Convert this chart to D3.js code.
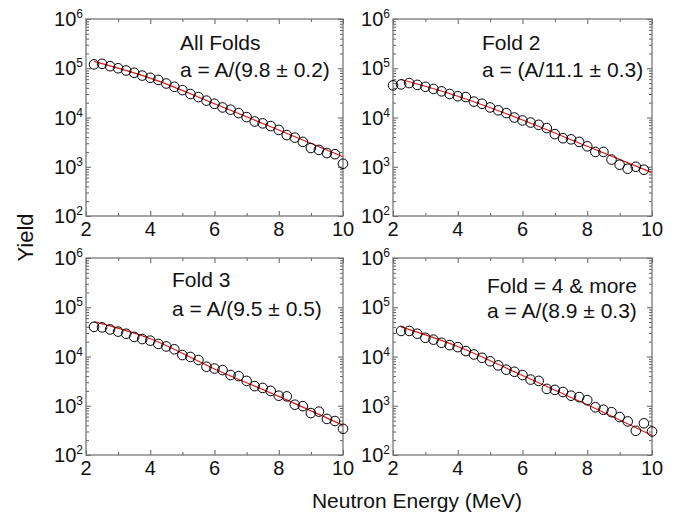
<!DOCTYPE html>
<html>
<head>
<meta charset="utf-8">
<script src="https://cdn.jsdelivr.net/npm/d3@7"></script>
<style>
body { margin: 0; background: #fff; }
svg { font-family: "Liberation Sans", Arial, Helvetica, sans-serif; }
</style>
</head>
<body>
<svg id="chart" width="683" height="512"></svg>
<script>
// neutron energies (MeV)
var energyA = [2.25, 2.5, 2.75, 3, 3.25, 3.5, 3.75, 4, 4.25, 4.5, 4.75, 5, 5.25, 5.5, 5.75, 6,
	6.25, 6.5, 6.75, 7, 7.25, 7.5, 7.75, 8, 8.25, 8.5, 8.75, 9, 9.25, 9.5, 9.75, 10];
var energyB = [2, 2.25, 2.5, 2.75, 3, 3.25, 3.5, 3.75, 4, 4.25, 4.5, 4.75, 5, 5.25, 5.5, 5.75,
	6, 6.25, 6.5, 6.75, 7, 7.25, 7.5, 7.75, 8, 8.25, 8.5, 8.75, 9, 9.25, 9.5, 9.75];

// yields
var allFolds = [1.2e5, 1.23e5, 1.1e5, 1.0e5, 9.0e4, 8.1e4, 7.1e4, 6.4e4, 5.8e4, 4.9e4, 4.2e4, 3.6e4,
	3.0e4, 2.6e4, 2.2e4, 1.9e4, 1.6e4, 1.44e4, 1.23e4, 1.02e4, 8.3e3, 7.6e3, 6.7e3, 5.6e3,
	4.4e3, 3.9e3, 3.2e3, 2.4e3, 2.2e3, 1.9e3, 1.8e3, 1.15e3];
var fold2 = [4.5e4, 4.7e4, 5.0e4, 4.6e4, 4.2e4, 3.8e4, 3.4e4, 3.0e4, 2.7e4, 2.6e4, 2.1e4, 1.9e4,
	1.6e4, 1.4e4, 1.23e4, 1.0e4, 8.7e3, 7.9e3, 7.1e3, 6.1e3, 4.6e3, 3.8e3, 3.6e3, 3.2e3,
	2.6e3, 2.0e3, 2.0e3, 1.4e3, 1.1e3, 9.1e2, 1.0e3, 8.7e2];
var fold3 = [4.0e4, 3.9e4, 3.55e4, 3.2e4, 2.9e4, 2.5e4, 2.26e4, 2.1e4, 1.8e4, 1.6e4, 1.4e4, 1.07e4,
	9.8e3, 8.5e3, 6.2e3, 5.7e3, 5.3e3, 4.2e3, 4.0e3, 3.2e3, 2.5e3, 2.3e3, 2.0e3, 1.6e3,
	1.55e3, 1.05e3, 9.8e2, 7.1e2, 7.6e2, 5.4e2, 4.9e2, 3.4e2];
var fold4 = [3.3e4, 3.3e4, 2.9e4, 2.4e4, 2.2e4, 1.9e4, 1.7e4, 1.55e4, 1.29e4, 1.1e4, 9.4e3, 8.0e3,
	6.6e3, 5.4e3, 4.9e3, 4.2e3, 3.4e3, 3.2e3, 2.2e3, 2.1e3, 1.9e3, 1.6e3, 1.5e3, 1.3e3,
	9.3e2, 8.3e2, 7.4e2, 5.9e2, 4.8e2, 3.1e2, 4.4e2, 3.0e2];

// fit curves (red)
var fitEnergy = [2.25, 4, 6, 8, 10];
var fitAll   = [1.38e5, 6.3e4, 1.9e4, 5.6e3, 1.6e3];
var fitFold2 = [5.9e4, 2.7e4, 8.9e3, 2.6e3, 7.6e2];
var fitFold3 = [5.1e4, 2.3e4, 5.6e3, 1.55e3, 4.0e2];
var fitFold4 = [4.0e4, 1.6e4, 4.1e3, 1.05e3, 2.5e2];

var titles = ["All Folds", "Fold 2", "Fold 3", "Fold = 4 & more"];
var fitLabels = ["a = A/(9.8 \u00b1 0.2)", "a = (A/11.1 \u00b1 0.3)", "a = A/(9.5 \u00b1 0.5)", "a = A/(8.9 \u00b1 0.3)"];

var xTicks = [2, 4, 6, 8, 10];
var yTicks = [1e2, 1e3, 1e4, 1e5, 1e6];

var panels = [
	{energy: energyA, yields: allFolds, fit: fitAll},
	{energy: energyB, yields: fold2, fit: fitFold2},
	{energy: energyA, yields: fold3, fit: fitFold3},
	{energy: energyA, yields: fold4, fit: fitFold4}
];

// layout
var lefts = [86, 393], widths = [257, 259], tops = [19, 258], ph = 197;
var textPos = [[94, 30.5, 57.5], [89, 30.5, 58], [86, 28.5, 58], [94, 34.5, 60]];

var svg = d3.select("#chart");

panels.forEach(function(p, i) {
	var left = lefts[i % 2], top = tops[Math.floor(i / 2)], w = widths[i % 2];

	var x = d3.scaleLinear().domain([2, 10]).range([left, left + w]);
	var y = d3.scaleLog().domain([1e2, 1e6]).range([top + ph, top]);

	var g = svg.append("g");

	var minorX = d3.range(3, 10, 2);
	var minorY = [];
	for (var d = 2; d < 6; d++) for (var m = 2; m < 10; m++) minorY.push(m * Math.pow(10, d));

	// ticks on all four sides, pointing inward
	var tickGroups = [
		[d3.axisBottom(x).tickValues(xTicks).tickSize(-5), "translate(0," + (top + ph) + ")"],
		[d3.axisBottom(x).tickValues(minorX).tickSize(-3), "translate(0," + (top + ph) + ")"],
		[d3.axisTop(x).tickValues(xTicks).tickSize(-5), "translate(0," + top + ")"],
		[d3.axisTop(x).tickValues(minorX).tickSize(-3), "translate(0," + top + ")"],
		[d3.axisLeft(y).tickValues(yTicks).tickSize(-5), "translate(" + left + ",0)"],
		[d3.axisLeft(y).tickValues(minorY).tickSize(-3), "translate(" + left + ",0)"],
		[d3.axisRight(y).tickValues(yTicks).tickSize(-5), "translate(" + (left + w) + ",0)"],
		[d3.axisRight(y).tickValues(minorY).tickSize(-3), "translate(" + (left + w) + ",0)"]
	];
	tickGroups.forEach(function(t) {
		var a = g.append("g").attr("transform", t[1]).call(t[0].tickFormat(""));
		a.select(".domain").remove();
		a.selectAll("line").attr("stroke", "#333").attr("stroke-width", 0.8);
	});

	g.append("rect")
		.attr("x", left).attr("y", top)
		.attr("width", w).attr("height", ph)
		.attr("fill", "none")
		.attr("stroke", "#777")
		.attr("stroke-width", 1.3);

	// x tick labels
	g.selectAll(".xl").data(xTicks).enter().append("text")
		.attr("x", d => x(d))
		.attr("y", top + ph + 20)
		.attr("text-anchor", "middle")
		.attr("font-size", 20)
		.attr("fill", "#111")
		.text(d => d);

	// y tick labels 10^n
	var yl = g.selectAll(".yl").data(yTicks).enter().append("text")
		.attr("x", left - 3)
		.attr("y", d => y(d) + 7)
		.attr("text-anchor", "end")
		.attr("font-size", 20)
		.attr("fill", "#111");
	yl.append("tspan").text("10");
	yl.append("tspan")
		.attr("font-size", 12)
		.attr("dy", -8)
		.text(d => Math.round(Math.log10(d)));

	// fit curve
	var line = d3.line()
		.x((d, j) => x(fitEnergy[j]))
		.y(d => y(d))
		.curve(d3.curveMonotoneX);

	g.append("path")
		.datum(p.fit)
		.attr("d", line)
		.attr("fill", "none")
		.attr("stroke", "#e8141c")
		.attr("stroke-width", 1.1);

	// data points
	g.selectAll("circle").data(p.yields).enter().append("circle")
		.attr("cx", (d, j) => x(p.energy[j]))
		.attr("cy", d => y(d))
		.attr("r", 4.8)
		.attr("fill", "none")
		.attr("stroke", "#000")
		.attr("stroke-width", 1);

	// annotations
	var tp = textPos[i];
	g.append("text")
		.attr("x", left + tp[0]).attr("y", top + tp[1])
		.attr("font-size", 21)
		.attr("fill", "#111")
		.text(titles[i]);
	g.append("text")
		.attr("x", left + tp[0]).attr("y", top + tp[2])
		.attr("font-size", 21)
		.attr("fill", "#111")
		.text(fitLabels[i]);
});

svg.append("text")
	.attr("transform", "translate(33,237.5) rotate(-90)")
	.attr("text-anchor", "middle")
	.attr("font-size", 22)
	.attr("fill", "#111")
	.text("Yield");

svg.append("text")
	.attr("x", 417).attr("y", 508)
	.attr("text-anchor", "middle")
	.attr("font-size", 21)
	.attr("fill", "#111")
	.text("Neutron Energy (MeV)");
</script>
</body>
</html>
